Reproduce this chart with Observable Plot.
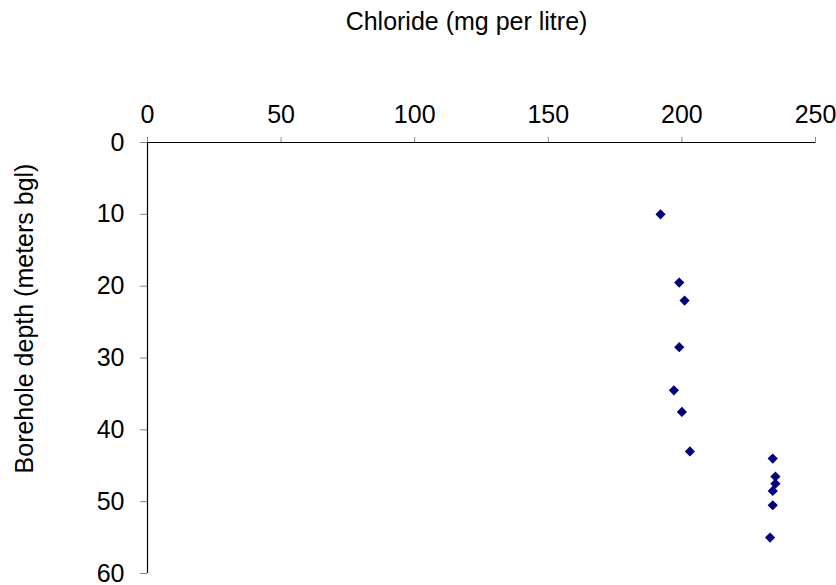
<!DOCTYPE html>
<html>
<head>
<meta charset="utf-8">
<script src="https://cdn.jsdelivr.net/npm/d3@7"></script>
<script src="https://cdn.jsdelivr.net/npm/@observablehq/plot@0.6"></script>
<style>
  html, body { margin: 0; padding: 0; background: #fff; }
  #chart svg { display: block; }
</style>
</head>
<body>
<div id="chart"></div>
<script>
const chloride = [192, 199, 201, 199, 197, 200, 203, 234, 235, 235, 234, 234, 233];
const depth = [10, 19.5, 22, 28.5, 34.5, 37.5, 43, 44, 46.5, 47.5, 48.5, 50.5, 55];
const xTicks = [0, 50, 100, 150, 200, 250];
const yTicks = [0, 10, 20, 30, 40, 50, 60];
const xTitle = "Chloride (mg per litre)";
const yTitle = "Borehole depth (meters bgl)";

const data = chloride.map((c, i) => ({chloride: c, depth: depth[i]}));
const font = "Liberation Sans, Arial, Helvetica, sans-serif";

const chart = Plot.plot({
  width: 836,
  height: 585,
  marginTop: 142,
  marginLeft: 147,
  marginRight: 21,
  marginBottom: 12,
  style: {fontFamily: font, fontSize: "25px", background: "#fff", color: "#000"},
  x: {domain: [0, 250]},
  y: {domain: [0, 60], reverse: true},
  marks: [
    Plot.axisX({anchor: "top", ticks: xTicks, tickSize: 6, tickPadding: 14, stroke: "#888", fill: "#000", label: null, fontSize: 25}),
    Plot.axisY({anchor: "left", ticks: yTicks, tickSize: 7, tickPadding: 16, stroke: "#888", fill: "#000", label: null, fontSize: 25}),
    Plot.ruleY([0], {stroke: "#000", strokeWidth: 1.2}),
    Plot.ruleX([0], {stroke: "#000", strokeWidth: 1.2}),
    Plot.dot(data, {x: "chloride", y: "depth", symbol: "diamond2", r: 4.6, fill: "#000080", stroke: "none"}),
    Plot.text([xTitle], {frameAnchor: "top", textAnchor: "middle", lineAnchor: "bottom", dx: -15, dy: -113, fontSize: 25, fill: "#000"}),
    Plot.text([yTitle], {frameAnchor: "left", textAnchor: "middle", lineAnchor: "bottom", rotate: -90, dx: -114.5, dy: -39.5, fontSize: 25, fill: "#000"})
  ]
});
document.getElementById("chart").appendChild(chart);
</script>
</body>
</html>
